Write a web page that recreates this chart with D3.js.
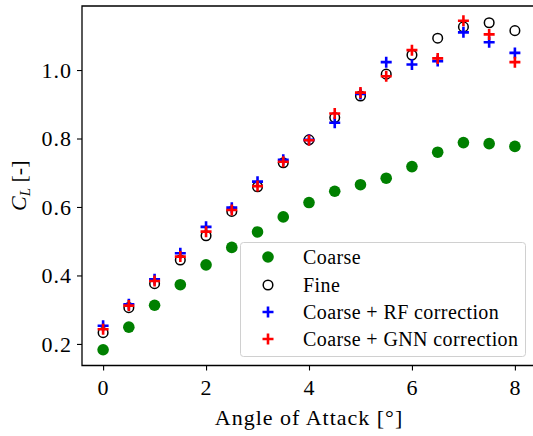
<!DOCTYPE html>
<html>
<head>
<meta charset="utf-8">
<script src="https://cdn.jsdelivr.net/npm/d3@7"></script>
<style>
  body { margin: 0; background: #fff; }
  svg { display: block; }
  svg text { font-family: "Times New Roman", Times, "Liberation Serif", "DejaVu Serif", "Noto Serif", Tinos, Georgia, serif !important; fill: #000; }
</style>
</head>
<body>
<svg width="533" height="436"></svg>
<script>
var svg = d3.select("svg"),
    width = +svg.attr("width"),
    height = +svg.attr("height");

// angle of attack in degrees
var alpha = [0, 0.5, 1, 1.5, 2, 2.5, 3, 3.5, 4, 4.5, 5, 5.5, 6, 6.5, 7, 7.5, 8];

var coarse = [0.183, 0.249, 0.313, 0.373, 0.431, 0.482, 0.527, 0.571, 0.613, 0.646, 0.665, 0.684, 0.718, 0.760, 0.788, 0.785, 0.777];
var fine   = [0.233, 0.306, 0.376, 0.445, 0.516, 0.587, 0.659, 0.729, 0.796, 0.861, 0.924, 0.988, 1.044, 1.093, 1.126, 1.138, 1.115];
var rfCorr = [0.253, 0.316, 0.389, 0.465, 0.542, 0.598, 0.674, 0.738, 0.796, 0.846, 0.930, 1.023, 1.016, 1.026, 1.110, 1.081, 1.050];
var gnnCorr = [0.243, 0.312, 0.384, 0.455, 0.528, 0.591, 0.661, 0.732, 0.795, 0.873, 0.934, 0.982, 1.058, 1.034, 1.144, 1.104, 1.023];

var xTicks = [0, 2, 4, 6, 8];
var yTicks = [0.2, 0.4, 0.6, 0.8, 1.0];

var legendLabels = ["Coarse", "Fine", "Coarse + RF correction", "Coarse + GNN correction"];

var margin = { left: 82, right: 536, top: 6, bottom: 365.5 };

var x = d3.scaleLinear().domain([-0.41, 8.41]).range([margin.left, margin.right]);
var y = d3.scaleLinear().domain([0.137, 1.187]).range([margin.bottom, margin.top]);

var plusPath = "M-5.5,0H5.5M0,-5.5V5.5";

// axes
var xAxis = svg.append("g")
    .attr("transform", "translate(0," + margin.bottom + ")")
    .call(d3.axisBottom(x).tickValues(xTicks).tickFormat(d3.format("d")).tickSize(5).tickPadding(6));

var yAxis = svg.append("g")
    .attr("transform", "translate(" + margin.left + ",0)")
    .call(d3.axisLeft(y).tickValues(yTicks).tickFormat(d3.format(".1f")).tickSize(5).tickPadding(6));

[xAxis, yAxis].forEach(function (a) {
    a.attr("font-family", null);
    a.select(".domain").remove();
    a.selectAll(".tick line").attr("stroke", "#000").attr("stroke-width", 1.1);
    a.selectAll(".tick text")
        .attr("font-size", 22)
        .attr("letter-spacing", 1);
});
xAxis.selectAll(".tick text").attr("dy", "0.85em");
yAxis.selectAll(".tick text").attr("dy", "0.34em").attr("x", -10);

// spines (right one falls outside the picture)
svg.append("path")
    .attr("d", "M" + margin.right + "," + margin.top + "H" + margin.left + "V" + margin.bottom + "H" + margin.right)
    .attr("fill", "none")
    .attr("stroke", "#000")
    .attr("stroke-width", 1.3);

// series
var plot = svg.append("g");

plot.selectAll("circle.coarse")
    .data(alpha)
    .enter().append("circle")
    .attr("class", "coarse")
    .attr("cx", function (d) { return x(d); })
    .attr("cy", function (d, i) { return y(coarse[i]); })
    .attr("r", 5.8)
    .attr("fill", "green");

plot.selectAll("circle.fine")
    .data(alpha)
    .enter().append("circle")
    .attr("class", "fine")
    .attr("cx", function (d) { return x(d); })
    .attr("cy", function (d, i) { return y(fine[i]); })
    .attr("r", 4.8)
    .attr("fill", "none")
    .attr("stroke", "#000")
    .attr("stroke-width", 1.5);

function plusSeries(vals, col) {
    plot.append("g").selectAll("path")
        .data(alpha)
        .enter().append("path")
        .attr("d", plusPath)
        .attr("transform", function (d, i) { return "translate(" + x(d) + "," + y(vals[i]) + ")"; })
        .attr("fill", "none")
        .attr("stroke", col)
        .attr("stroke-width", 2.6);
}
plusSeries(rfCorr, "blue");
plusSeries(gnnCorr, "red");

// legend
var leg = svg.append("g");
leg.append("rect")
    .attr("x", 240.5).attr("y", 242.5)
    .attr("width", 285).attr("height", 114)
    .attr("rx", 3)
    .attr("fill", "#fff").attr("fill-opacity", 0.8)
    .attr("stroke", "#d0d0d0").attr("stroke-width", 1);

var rowY = [257, 285, 312, 339];
legendLabels.forEach(function (lab, i) {
    var g = leg.append("g").attr("transform", "translate(268," + rowY[i] + ")");
    if (i === 0) {
        g.append("circle").attr("r", 5.8).attr("fill", "green");
    } else if (i === 1) {
        g.append("circle").attr("r", 4.8).attr("fill", "none").attr("stroke", "#000").attr("stroke-width", 1.5);
    } else {
        g.append("path").attr("d", plusPath).attr("fill", "none")
            .attr("stroke", i === 2 ? "blue" : "red").attr("stroke-width", 2.6);
    }
    leg.append("text")
        .attr("x", 303).attr("y", rowY[i] + 6.5)
        .attr("font-size", 20)
        .attr("letter-spacing", 0.4)
        .text(lab);
});

// axis labels
svg.append("text")
    .attr("x", (margin.left + margin.right) / 2)
    .attr("y", 425)
    .attr("text-anchor", "middle")
    .attr("font-size", 22)
    .attr("letter-spacing", 1)
    .text("Angle of Attack [°]");

var yl = svg.append("text")
    .attr("transform", "translate(26," + ((margin.top + margin.bottom) / 2) + ") rotate(-90)")
    .attr("text-anchor", "middle")
    .attr("font-size", 22);
yl.append("tspan").attr("font-style", "italic").text("C");
yl.append("tspan").attr("font-style", "italic").attr("font-size", 15).attr("dy", 4).text("L");
yl.append("tspan").attr("dy", -4).text(" [-]");
</script>
</body>
</html>
